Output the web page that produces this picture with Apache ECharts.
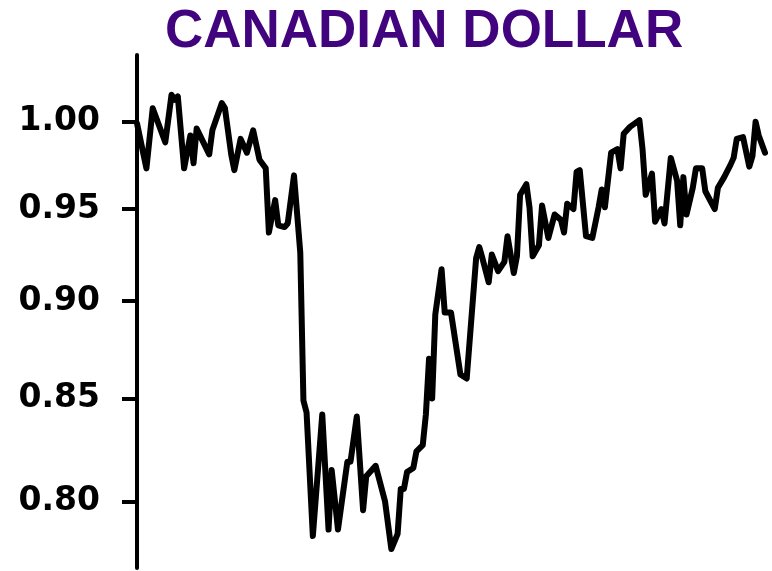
<!DOCTYPE html>
<html>
<head>
<meta charset="utf-8">
<script src="https://cdn.jsdelivr.net/npm/echarts@6/dist/echarts.min.js"></script>
<style>
html,body{margin:0;padding:0;background:#fff;}
#chart{width:772px;height:571px;}
</style>
</head>
<body>
<div id="chart"></div>
<script>
// Period index (roughly weekly steps) and CAD value in USD
var periods = [0,3,5,7,9,11,12,13,15,17,18,19,23,24,27,28,30,31,33,35,37,39,41,42,44,45,47,48,50,52,53,54,56,59,61,62,64,67,68,70,72,73,76,79,81,83,84,85,86,88,89,91,92,93,94,95,97,98,100,103,105,108,109,110,112,113,115,117,118,120,121,122,124,125,126,128,129,131,133,135,136,137,139,140,141,143,145,147,148,149,151,153,154,155,157,160,161,162,164,165,167,168,170,172,173,174,175,177,178,180,181,184,185,187,189,190,191,193,195,196,197,198,200];
var cad = [0.999,0.973,1.008,0.998,0.988,1.016,1.013,1.015,0.973,0.992,0.976,0.996,0.981,0.995,1.011,1.008,0.981,0.972,0.990,0.982,0.995,0.978,0.973,0.937,0.955,0.941,0.940,0.942,0.969,0.926,0.849,0.843,0.784,0.842,0.787,0.815,0.787,0.819,0.819,0.841,0.796,0.812,0.817,0.800,0.778,0.785,0.806,0.806,0.814,0.816,0.824,0.827,0.842,0.870,0.850,0.893,0.917,0.894,0.894,0.862,0.860,0.923,0.929,0.923,0.910,0.925,0.916,0.921,0.935,0.915,0.924,0.958,0.964,0.951,0.924,0.930,0.952,0.934,0.947,0.944,0.937,0.953,0.950,0.971,0.972,0.935,0.934,0.951,0.961,0.951,0.982,0.984,0.973,0.993,0.997,1.001,0.984,0.958,0.970,0.943,0.950,0.942,0.979,0.966,0.941,0.968,0.947,0.962,0.973,0.973,0.960,0.950,0.962,0.968,0.975,0.979,0.990,0.991,0.974,0.980,1.000,0.992,0.982];
var tickValues = [0.80,0.85,0.90,0.95,1.00];
var titleText = 'CANADIAN DOLLAR';

var seriesData = periods.map(function(p,i){ return [p, cad[i]]; });

var chart = echarts.init(document.getElementById('chart'), null, {renderer:'canvas'});
chart.setOption({
  animation:false,
  backgroundColor:'#ffffff',
  title:{
    text:titleText,
    left:160, top:1,
    textStyle:{fontFamily:'Liberation Sans, Arial, sans-serif', fontWeight:'bold', fontSize:53, color:'#42037f'}
  },
  grid:{left:137, right:7, top:55, bottom:3, containLabel:false},
  xAxis:{type:'value', min:0, max:200, show:false},
  yAxis:{
    type:'log', logBase:10, min:0.7694, max:1.040,
    axisLine:{show:true, lineStyle:{color:'#000', width:4}},
    axisTick:{show:true, inside:false, length:15, customValues:tickValues, lineStyle:{color:'#000', width:4}},
    axisLabel:{show:true, margin:37, customValues:tickValues, color:'#000', fontFamily:'DejaVu Sans, sans-serif', fontWeight:'bold', fontSize:33,
      formatter:function(v){ return Number(v).toFixed(2); }},
    splitLine:{show:false}
  },
  series:[{
    type:'line', data:seriesData, symbol:'none', smooth:false,
    lineStyle:{color:'#000', width:6, join:'round', cap:'round'}
  }]
});
</script>
</body>
</html>
